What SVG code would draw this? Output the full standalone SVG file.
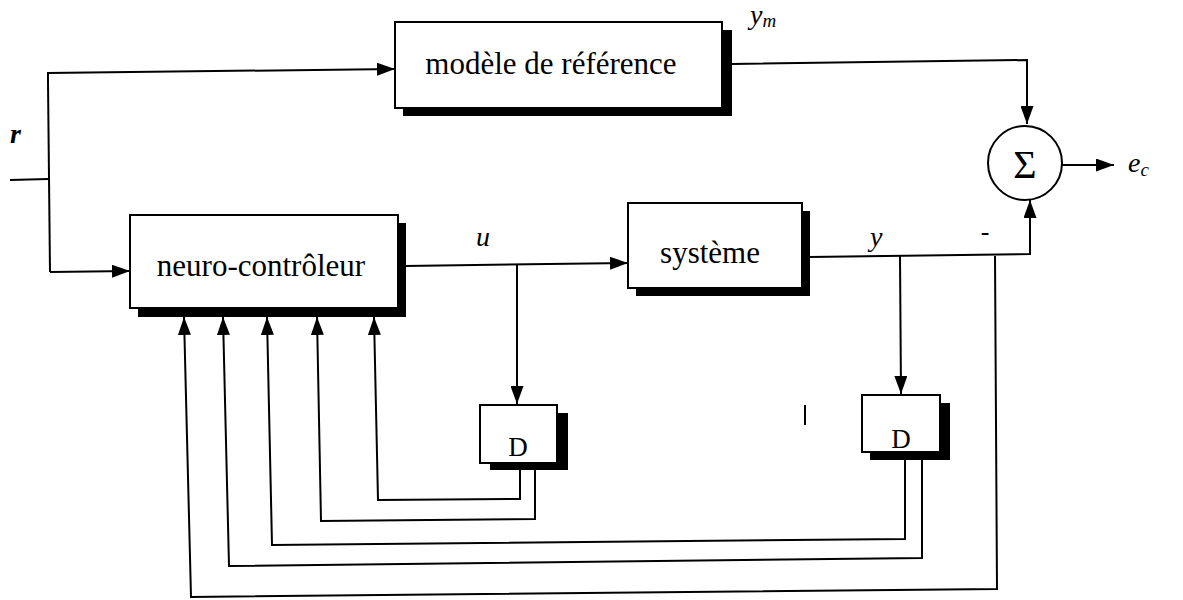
<svg xmlns="http://www.w3.org/2000/svg" width="1183" height="600" viewBox="0 0 1183 600">
<defs>
<marker id="ah" viewBox="0 0 18 13" refX="18" refY="6.5" markerWidth="18" markerHeight="13" markerUnits="userSpaceOnUse" orient="auto"><path d="M0,0 L18,6.5 L0,13 z" fill="#000"/></marker>
</defs>
<style>
.box{fill:#fff;stroke:#000;stroke-width:2}
.sh{fill:#000}
.ln{fill:none;stroke:#000;stroke-width:2}
.t{font-family:"Liberation Serif","Times New Roman",serif;fill:#000}
.lab{font-family:"Liberation Serif","Times New Roman",serif;font-style:italic;fill:#000;font-size:28px}
</style>
<rect width="1183" height="600" fill="#fff"/>
<g id="connectors">
<line class="ln" x1="10" y1="180" x2="48" y2="179"/>
<line class="ln" x1="48" y1="82" x2="50" y2="272"/>
<polyline class="ln" points="48,82 48,73 395,69" marker-end="url(#ah)"/>
<polyline class="ln" points="50,272 130,271" marker-end="url(#ah)"/>
<polyline class="ln" points="732,64 1027,60 1027,124" marker-end="url(#ah)"/>
<line class="ln" x1="1062" y1="165" x2="1114" y2="165" marker-end="url(#ah)"/>
<line class="ln" x1="405" y1="266" x2="628" y2="263" marker-end="url(#ah)"/>
<line class="ln" x1="517" y1="265" x2="517" y2="404" marker-end="url(#ah)"/>
<polyline class="ln" points="810,257 1030,254 1030,200" marker-end="url(#ah)"/>
<line class="ln" x1="900" y1="256" x2="901" y2="394" marker-end="url(#ah)"/>
<polyline class="ln" points="520,470 520,499 378,500 374,317" marker-end="url(#ah)"/>
<polyline class="ln" points="535,470 535,519 321,521 317,317" marker-end="url(#ah)"/>
<polyline class="ln" points="905,460 905,539 272,545 267,317" marker-end="url(#ah)"/>
<polyline class="ln" points="922,460 922,558 229,566 223,317" marker-end="url(#ah)"/>
<polyline class="ln" points="995,256 997,589 191,597 184,317" marker-end="url(#ah)"/>
<line class="ln" x1="805" y1="405" x2="805" y2="425" stroke-width="1.5"/>
</g>
<g id="modele">
<rect class="sh" x="403" y="30" width="329" height="86"/>
<rect class="box" x="395" y="22" width="327" height="86"/>
<text class="t" x="551" y="74" font-size="31" text-anchor="middle">modèle de référence</text>
</g>
<g id="neuro">
<rect class="sh" x="138" y="223" width="268" height="94"/>
<rect class="box" x="130" y="215" width="268" height="93"/>
<text class="t" x="261" y="276" font-size="31" text-anchor="middle">neuro-contrôleur</text>
</g>
<g id="systeme">
<rect class="sh" x="636" y="211" width="174" height="85"/>
<rect class="box" x="628" y="203" width="174" height="85"/>
<text class="t" x="710" y="263" font-size="31" text-anchor="middle">système</text>
</g>
<g id="d1">
<rect class="sh" x="490" y="413" width="78" height="57"/>
<rect class="box" x="480" y="405" width="77" height="58"/>
<text class="t" x="518" y="456" font-size="27" text-anchor="middle">D</text>
</g>
<g id="d2">
<rect class="sh" x="870" y="403" width="80" height="57"/>
<rect class="box" x="862" y="395" width="78" height="57"/>
<text class="t" x="901" y="448" font-size="27" text-anchor="middle">D</text>
</g>
<g id="sum">
<circle cx="1025" cy="163" r="37" fill="#fff" stroke="#000" stroke-width="2"/>
<text class="t" x="1025" y="178" font-size="40" text-anchor="middle">Σ</text>
</g>
<g id="labels">
<text class="lab" x="10" y="143" font-weight="bold">r</text>
<text class="lab" x="476" y="246">u</text>
<text class="lab" x="870" y="246">y</text>
<text class="lab" x="750" y="24">y<tspan font-size="19" dy="3">m</tspan></text>
<text class="lab" x="1128" y="172">e<tspan font-size="19" dy="4">c</tspan></text>
<text class="t" x="985" y="240" font-size="26" text-anchor="middle">-</text>
</g>
</svg>
